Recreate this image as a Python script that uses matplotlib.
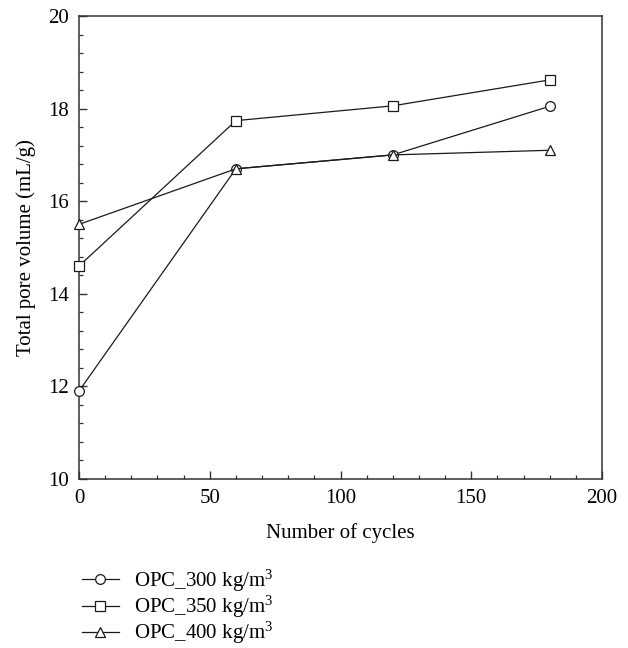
import matplotlib
matplotlib.use("Agg")
import matplotlib.pyplot as plt
from matplotlib.ticker import MultipleLocator

# -----------------------------
# DATA
# -----------------------------
cycles = [0, 60, 120, 180]
opc_300 = [11.9, 16.7, 17.0, 18.05]
opc_350 = [14.6, 17.74, 18.06, 18.62]
opc_400 = [15.5, 16.7, 17.0, 17.1]

labels = ["OPC_300 kg/m$^3$", "OPC_350 kg/m$^3$", "OPC_400 kg/m$^3$"]
markers = ["o", "s", "^"]

# -----------------------------
# STYLE
# -----------------------------
plt.rcParams['font.family'] = ['Liberation Serif', 'DejaVu Serif']
plt.rcParams['mathtext.fontset'] = 'custom'
plt.rcParams['mathtext.rm'] = 'Liberation Serif'
plt.rcParams['mathtext.it'] = 'Liberation Serif:italic'
plt.rcParams['font.size'] = 15

fig = plt.figure(figsize=(6.28, 6.48), dpi=100)
ax = fig.add_axes([0.1258, 0.2608, 0.8328, 0.7145])

for ys, m, lab in zip([opc_300, opc_350, opc_400], markers, labels):
    ax.plot(cycles, ys, color='#1a1a1a', linewidth=0.9, marker=m,
            markersize=7 if m != '^' else 7.5, markerfacecolor='white',
            markeredgecolor='#1a1a1a', markeredgewidth=0.9, label=lab,
            clip_on=False, zorder=3)

ax.set_xlim(0, 200)
ax.set_ylim(10, 20)
ax.xaxis.set_major_locator(MultipleLocator(50))
ax.xaxis.set_minor_locator(MultipleLocator(10))
ax.yaxis.set_major_locator(MultipleLocator(2))
ax.yaxis.set_minor_locator(MultipleLocator(0.4))
ax.tick_params(which='both', direction='in', top=False, right=False,
               color='#333333', labelsize=15)
ax.tick_params(which='major', length=6, width=1.0, pad=7)
ax.tick_params(which='minor', length=3, width=0.9)
for s in ax.spines.values():
    s.set_linewidth(1.1)
    s.set_color('#333333')

ax.set_xlabel("Number of cycles", fontsize=15, labelpad=11)
ax.set_ylabel("Total pore volume (mL/g)", fontsize=15, labelpad=9)

handles, labs = ax.get_legend_handles_labels()
fig.legend(handles, labs, loc='upper left', bbox_to_anchor=(0.13, 0.124),
           frameon=False, fontsize=15, handlelength=1.8, handletextpad=0.7,
           labelspacing=0.0, borderaxespad=0, borderpad=0)

fig.savefig("out.png", dpi=100)
